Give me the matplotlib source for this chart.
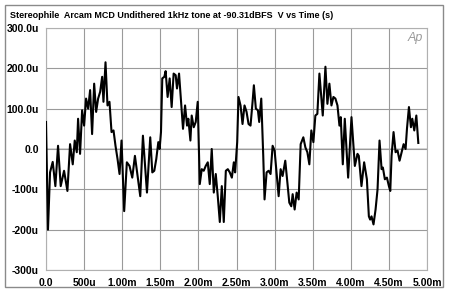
import matplotlib
matplotlib.use("Agg")
import matplotlib.pyplot as plt
from matplotlib.patches import Rectangle

# waveform: time in ms, level in microvolts
t_ms = [0.0, 0.026, 0.053, 0.088, 0.123, 0.158, 0.193, 0.237, 0.281, 0.316,
        0.351, 0.377, 0.404, 0.421, 0.447, 0.474, 0.5, 0.526, 0.553, 0.579,
        0.605, 0.632, 0.658, 0.684, 0.711, 0.737, 0.754, 0.781, 0.807, 0.833,
        0.860, 0.886, 0.912, 0.939, 0.965, 0.991,
        1.026, 1.061, 1.096, 1.132, 1.167, 1.202, 1.237, 1.272, 1.307, 1.325,
        1.368, 1.395, 1.421, 1.447, 1.474, 1.491, 1.509, 1.526, 1.553, 1.570,
        1.596, 1.623, 1.649, 1.675, 1.702, 1.719, 1.746, 1.772, 1.798, 1.825,
        1.851, 1.868, 1.895, 1.912, 1.939, 1.965, 1.991,
        2.018, 2.044, 2.070, 2.096, 2.123, 2.149, 2.175, 2.202, 2.228, 2.254,
        2.281, 2.307, 2.333, 2.360, 2.386, 2.412, 2.439, 2.465, 2.482, 2.509,
        2.526, 2.553, 2.579, 2.605, 2.632, 2.658, 2.684, 2.711, 2.728, 2.754,
        2.781, 2.798, 2.825, 2.851, 2.868, 2.895, 2.921, 2.947, 2.974, 3.0,
        3.018, 3.053, 3.079, 3.105, 3.140, 3.167, 3.193, 3.219, 3.237, 3.263,
        3.289, 3.316, 3.342, 3.377, 3.404, 3.430, 3.456, 3.482, 3.509, 3.535,
        3.561, 3.588, 3.614, 3.632, 3.667, 3.693, 3.719, 3.746, 3.772, 3.798,
        3.825, 3.851, 3.868, 3.895, 3.921, 3.939, 3.965, 4.009,
        4.053, 4.088, 4.105, 4.140, 4.175, 4.211, 4.237, 4.254, 4.272, 4.298,
        4.325, 4.351, 4.377, 4.404, 4.421, 4.447, 4.474, 4.5, 4.518, 4.535,
        4.561, 4.588, 4.614, 4.640, 4.667, 4.693, 4.719, 4.737, 4.763, 4.789,
        4.807, 4.833, 4.860, 4.886]
v_u = [67, -200, -58, -32, -92, 8, -92, -54, -104, 12,
       -38, 21, -8, 75, -12, 96, 58, 125, 100, 146,
       37, 162, 92, 125, 142, 179, 117, 215, 108, 117,
       42, 46, 8, -25, -62, 21,
       -154, -33, -42, -71, -17, -67, -117, 33, -58, -108,
       29, -58, -54, -25, 17, 0, 42, 175, 179, 193,
       129, 175, 104, 187, 183, 150, 187, 117, 50, 108,
       58, 75, 21, 83, 54, 67, 117,
       -87, -50, -54, -42, -33, -87, 0, -108, -62, -117,
       -181, -92, -181, -54, -50, -58, -71, -33, -58, 17,
       129, 108, 62, 108, 92, 62, 58, 117, 158, 100,
       96, 67, 125, -17, -125, -58, -54, -62, 8, -4,
       -42, -117, -50, -67, -29, -83, -133, -142, -112, -150,
       -108, -125, 12, 29, 4, -8, -38, 46, 17, 83,
       87, 187, 125, 83, 204, 112, 162, 108, 129, 125,
       108, 58, 79, -38, 75, 17, -71, 79,
       -42, -12, -17, -92, -33, -75, -167, -175, -167, -187,
       -150, -100, 21, -50, -46, -75, -71, -92, -104, -17,
       42, -8, -4, -29, -8, 12, 0, 50, 104, 54,
       75, 46, 83, 15]

xticks = [0, 0.5, 1.0, 1.5, 2.0, 2.5, 3.0, 3.5, 4.0, 4.5, 5.0]
xlabels = ["0.0", "500u", "1.00m", "1.50m", "2.00m", "2.50m", "3.00m",
           "3.50m", "4.00m", "4.50m", "5.00m"]
yticks = [300, 200, 100, 0, -100, -200, -300]
ylabels = ["300.0u", "200.0u", "100.0u", "0.0", "-100u", "-200u", "-300u"]

title = "Stereophile  Arcam MCD Undithered 1kHz tone at -90.31dBFS  V vs Time (s)"

plt.rcParams['font.family'] = ['Liberation Sans', 'DejaVu Sans']

fig = plt.figure(figsize=(4.5, 2.95), dpi=100)
ax = fig.add_axes([46/450, 1 - 270/295, 381/450, 242/295])

# outer frame around the whole picture
fig.patches.append(Rectangle((5/450, 1 - 287/295), 438/450, 282/295,
                             transform=fig.transFigure, fill=False,
                             edgecolor='#8a8a8a', lw=1.0))

ax.plot(t_ms, v_u, color='black', lw=1.5, zorder=3)

ax.set_xlim(0, 5)
ax.set_ylim(-300, 300)
ax.set_xticks(xticks)
ax.set_xticklabels(xlabels, fontsize=7.5, fontweight='bold')
ax.set_yticks(yticks)
ax.set_yticklabels(ylabels, fontsize=7.5, fontweight='bold')
ax.tick_params(length=0, pad=6)
ax.tick_params(axis='y', pad=5)

ax.grid(True, color='#9a9a9a', lw=0.8)
ax.axhline(0, color='#cfcfcf', lw=1.2, zorder=1)
for s in ax.spines.values():
    s.set_color('#b0b0b0')
    s.set_linewidth(0.8)

fig.text(10/450, 1 - 16/295, title, fontsize=6.45, fontweight='bold',
         ha='left', va='center')
ax.text(0.99, 0.985, "Ap", transform=ax.transAxes, fontsize=9,
        style='italic', color='#9a9a9a', ha='right', va='top')

fig.savefig("out.png", dpi=100)
